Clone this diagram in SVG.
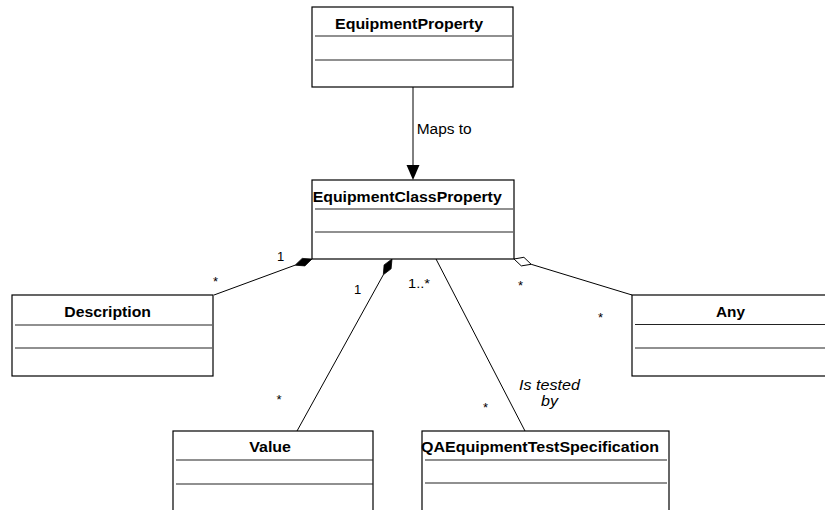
<svg xmlns="http://www.w3.org/2000/svg" width="825" height="510" viewBox="0 0 825 510">
<style>
  .box{fill:#fff;stroke:#000;stroke-width:1.2}
  .sep{stroke:#222;stroke-width:1.2}
  .title{font-family:"Liberation Sans",Arial,sans-serif;font-weight:bold;font-size:14px;fill:#000}
  .lbl{font-family:"Liberation Sans",Arial,sans-serif;font-size:13px;fill:#000}
  .it{font-family:"Liberation Sans",Arial,sans-serif;font-style:italic;font-size:14px;fill:#000}
  .conn{stroke:#000;stroke-width:1;fill:none}
</style>
<rect width="825" height="510" fill="#fff"/>
<g id="connectors">
  <line class="conn" x1="413" y1="87" x2="413" y2="166"/>
  <polygon points="406.5,165 419.5,165 413,180" fill="#000"/>
  <line class="conn" x1="295" y1="265.2" x2="214" y2="295"/>
  <polygon points="312,259 302.2,258.4 295.1,265.2 304.9,265.9" fill="#000" stroke="#000" stroke-width="0.8"/>
  <line class="conn" x1="383.3" y1="274.8" x2="297" y2="431"/>
  <polygon points="392,259 384.1,264.9 383.3,274.8 391.1,268.8" fill="#000" stroke="#000" stroke-width="0.8"/>
  <line class="conn" x1="436" y1="259" x2="525" y2="431"/>
  <line class="conn" x1="531.2" y1="264.3" x2="632" y2="295"/>
  <polygon points="514,259 523.9,257.3 531.2,264.3 521.3,265.9" fill="#fff" stroke="#000" stroke-width="1"/>
  <text class="lbl" x="416.7" y="134" textLength="55" lengthAdjust="spacingAndGlyphs" style="font-size:14px">Maps to</text>
  <text class="lbl" x="277" y="261">1</text>
  <text class="lbl" x="213" y="286">*</text>
  <text class="lbl" x="354" y="294">1</text>
  <text class="lbl" x="276.5" y="404">*</text>
  <text class="lbl" x="408" y="288" textLength="22" lengthAdjust="spacingAndGlyphs">1..*</text>
  <text class="lbl" x="483" y="412">*</text>
  <text class="it" x="519" y="390" textLength="61" lengthAdjust="spacingAndGlyphs">Is tested</text>
  <text class="it" x="541" y="406" textLength="17" lengthAdjust="spacingAndGlyphs">by</text>
  <text class="lbl" x="518" y="290">*</text>
  <text class="lbl" x="598" y="322">*</text>
</g>
<g id="EquipmentProperty">
  <rect class="box" x="312" y="7" width="201" height="80"/>
  <line class="sep" x1="315" y1="36" x2="512" y2="36"/>
  <line class="sep" x1="315" y1="60" x2="512" y2="60"/>
  <text class="title" x="335" y="28.5" textLength="148" lengthAdjust="spacingAndGlyphs">EquipmentProperty</text>
</g>
<g id="EquipmentClassProperty">
  <rect class="box" x="312" y="180" width="202" height="79"/>
  <line class="sep" x1="315" y1="209" x2="513" y2="209"/>
  <line class="sep" x1="315" y1="232" x2="513" y2="232"/>
  <text class="title" x="312.7" y="202" textLength="189" lengthAdjust="spacingAndGlyphs">EquipmentClassProperty</text>
</g>
<g id="Description">
  <rect class="box" x="12" y="295" width="201" height="81"/>
  <line class="sep" x1="15" y1="325" x2="212" y2="325"/>
  <line class="sep" x1="15" y1="348" x2="212" y2="348"/>
  <text class="title" x="64.3" y="316.5" textLength="86.7" lengthAdjust="spacingAndGlyphs">Description</text>
</g>
<g id="Any">
  <rect class="box" x="632" y="295" width="200" height="81"/>
  <line class="sep" x1="635" y1="324.5" x2="825" y2="324.5"/>
  <line class="sep" x1="635" y1="348" x2="825" y2="348"/>
  <text class="title" x="716" y="316.5" textLength="29" lengthAdjust="spacingAndGlyphs">Any</text>
</g>
<g id="Value">
  <rect class="box" x="173" y="431" width="200" height="100"/>
  <line class="sep" x1="176" y1="460" x2="373" y2="460"/>
  <line class="sep" x1="176" y1="484" x2="373" y2="484"/>
  <text class="title" x="249.3" y="451.7" textLength="41.7" lengthAdjust="spacingAndGlyphs">Value</text>
</g>
<g id="QAEquipmentTestSpecification">
  <rect class="box" x="422" y="431" width="247" height="100"/>
  <line class="sep" x1="425" y1="460" x2="667" y2="460"/>
  <line class="sep" x1="425" y1="483" x2="667" y2="483"/>
  <text class="title" x="421" y="451.7" textLength="238" lengthAdjust="spacingAndGlyphs">QAEquipmentTestSpecification</text>
</g>
</svg>
